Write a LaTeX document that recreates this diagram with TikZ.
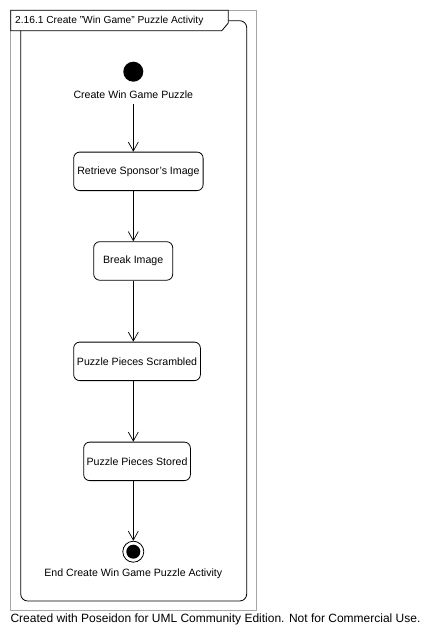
\documentclass[tikz,border=0pt]{standalone}
\usepackage{fontspec}
\setmainfont{Liberation Sans}
\usetikzlibrary{arrows.meta}
\begin{document}
\begin{tikzpicture}[x=1pt,y=-1pt,
  every node/.style={font=\fontsize{10.6}{12}\selectfont, inner sep=0pt},
  act/.style={draw, rounded corners=6pt, line width=0.8pt, minimum height=38.5pt, anchor=north west},
  flow/.style={draw, line width=0.8pt, -{Straight Barb[length=9pt,width=10pt,line width=0.7pt]}},
  lbl/.style={text=black}]
\useasboundingbox (0,0) rectangle (429,643);
\fill[white] (0,0) rectangle (429,643);
% outer frame
\draw[gray!70, line width=0.8pt] (10.3,10.3) rectangle (256.5,610.7);
% inner rounded frame
\draw[line width=0.8pt, rounded corners=7pt] (20.7,20.7) rectangle (246.7,601);
% title box
\draw[fill=white, line width=0.8pt] (10.8,10.3) -- (228.3,10.3) -- (228.3,23) -- (221.8,30.7) -- (10.8,30.7) -- cycle;
\node[anchor=west, font=\fontsize{10.2}{12}\selectfont] (title) at (15,20.5) {2.16.1 Create "Win Game" Puzzle Activity};
% start
\node[circle, fill=black, minimum size=20pt] (start) at (133.3,71.7) {};
\node (startlbl) at (133.3,95) {Create Win Game Puzzle};
% activities
\node[act, minimum width=129.4pt] (a1) at (73.3,151.7) {Retrieve Sponsor's Image};
\node[act, minimum width=79pt] (a2) at (93.3,241.3) {Break Image};
\node[act, minimum width=126.7pt] (a3) at (73.3,341.7) {Puzzle Pieces Scrambled};
\node[act, minimum width=106.7pt] (a4) at (83.3,441.7) {Puzzle Pieces Stored};
% end
\node[circle, draw, line width=0.8pt, minimum size=21pt] (end) at (133.3,551.7) {};
\node[circle, fill=black, minimum size=14pt] (endin) at (end.center) {};
\node (endlbl) at (133.3,574) {End Create Win Game Puzzle Activity};
% flows
\draw[flow] (startlbl.south -| start) ++(0,5) coordinate (s0) -- (a1.north -| start);
\draw[flow] (a1.south -| start) -- (a2.north -| start);
\draw[flow] (a2.south -| start) -- (a3.north -| start);
\draw[flow] (a3.south -| start) -- (a4.north -| start);
\draw[flow] (a4.south -| start) -- (end.north);
% footer
\node[anchor=west, font=\fontsize{12}{14}\selectfont] (footer) at (10.3,619) {Created with Poseidon for UML Community Edition. Not for Commercial Use.};
\end{tikzpicture}
\end{document}
